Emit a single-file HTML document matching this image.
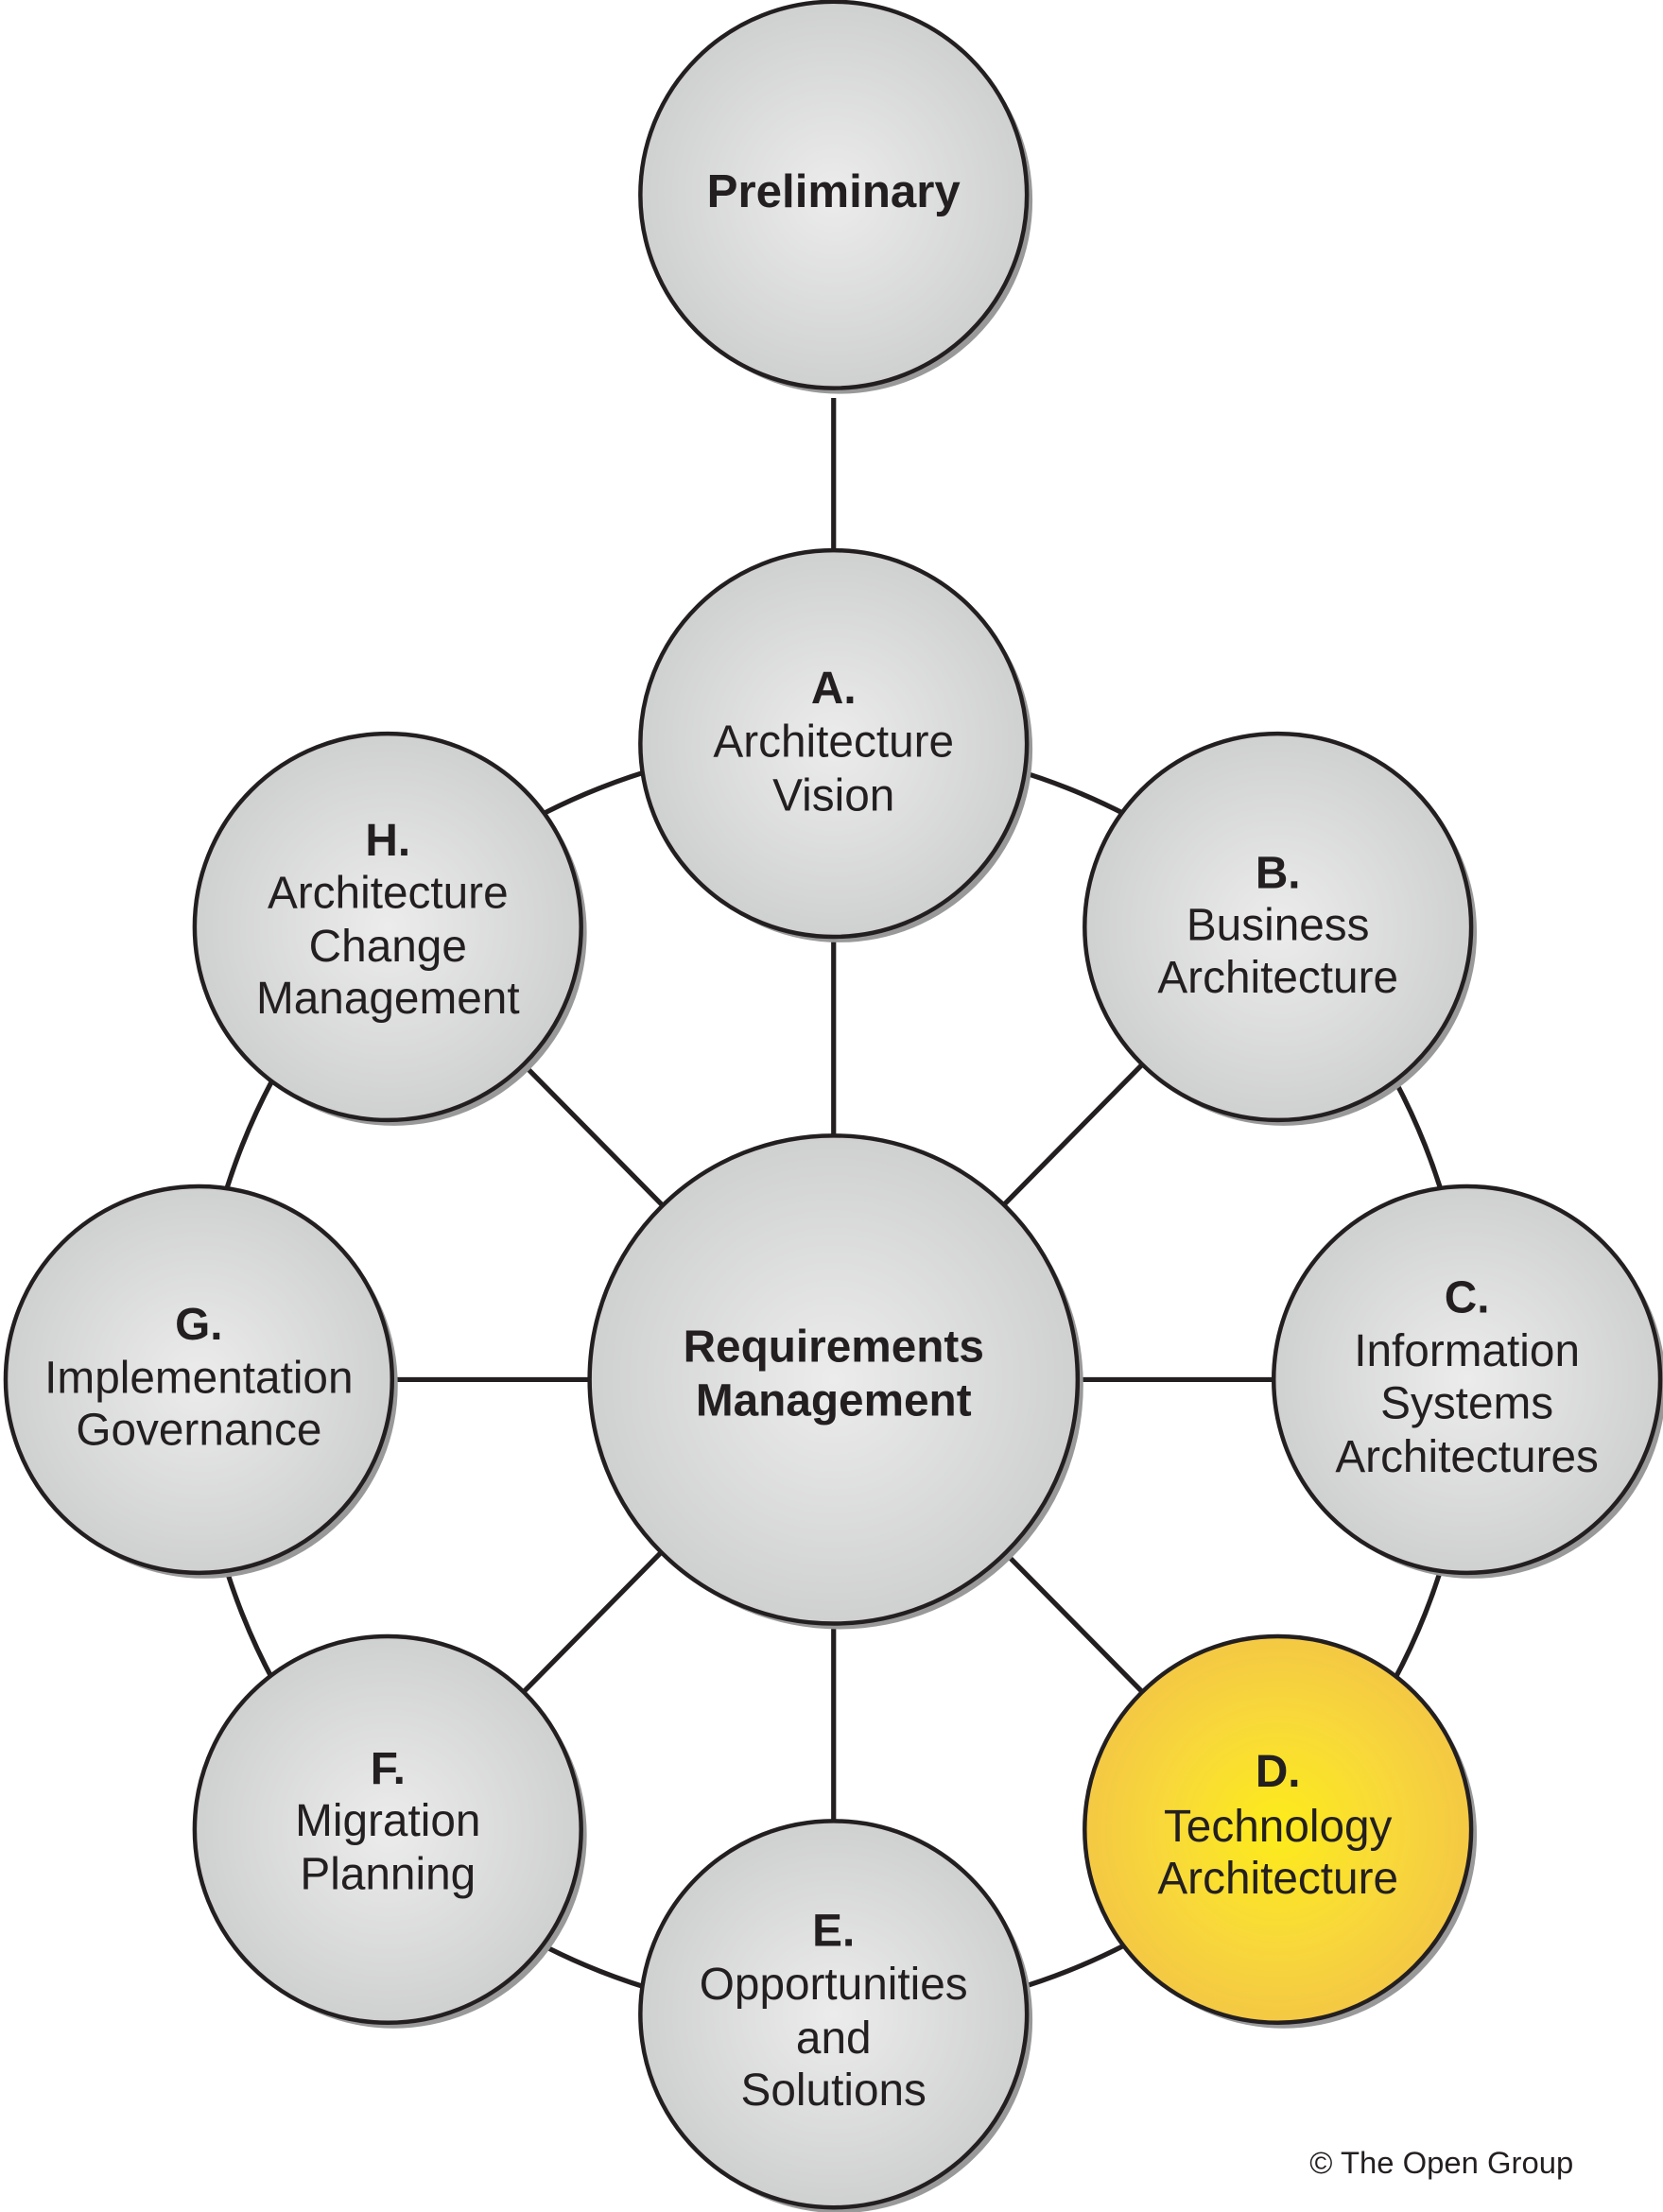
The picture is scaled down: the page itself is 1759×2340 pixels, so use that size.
<!DOCTYPE html>
<html><head><meta charset="utf-8"><style>
html,body{margin:0;padding:0;background:#fff;}
svg{display:block;}
text{font-family:"Liberation Sans",Arial,Helvetica,sans-serif;fill:#231f20;text-anchor:middle;dominant-baseline:middle;font-size:32px;}
.b{font-weight:bold;}
</style></head><body>
<svg width="1759" height="2340" viewBox="0 0 1179 1568" xmlns="http://www.w3.org/2000/svg">
<defs>
<radialGradient id="g" cx="50%" cy="50%" r="50%"><stop offset="0" stop-color="#ececec"/><stop offset="1" stop-color="#cfd0d0"/></radialGradient>
<radialGradient id="y" cx="50%" cy="50%" r="50%"><stop offset="0" stop-color="#fdec1a"/><stop offset="0.6" stop-color="#f8d83a"/><stop offset="1" stop-color="#f4c844"/></radialGradient>
</defs>
<g stroke="#231f20" stroke-width="3.5" fill="none">
<circle cx="591" cy="978" r="451"/>
<line x1="591" y1="282" x2="591" y2="390"/>
<line x1="591" y1="527" x2="591" y2="1428"/>
<line x1="141" y1="978" x2="1040" y2="978"/>
<line x1="275" y1="657" x2="906" y2="1297"/>
<line x1="906" y1="657" x2="275" y2="1297"/>
</g>
<g stroke="#231f20" stroke-width="3">
<g fill="#999" stroke="none">
<circle cx="595" cy="142" r="137"/><circle cx="595" cy="531" r="137"/><circle cx="910" cy="661" r="137"/><circle cx="1044" cy="982" r="137"/><circle cx="910" cy="1301" r="137"/><circle cx="595" cy="1432" r="137"/><circle cx="279" cy="1301" r="137"/><circle cx="145" cy="982" r="137"/><circle cx="279" cy="661" r="137"/><circle cx="595" cy="982" r="173"/>
</g>
<circle cx="591" cy="138" r="137" fill="url(#g)"/>
<circle cx="591" cy="527" r="137" fill="url(#g)"/>
<circle cx="906" cy="657" r="137" fill="url(#g)"/>
<circle cx="1040" cy="978" r="137" fill="url(#g)"/>
<circle cx="906" cy="1297" r="137" fill="url(#y)"/>
<circle cx="591" cy="1428" r="137" fill="url(#g)"/>
<circle cx="275" cy="1297" r="137" fill="url(#g)"/>
<circle cx="141" cy="978" r="137" fill="url(#g)"/>
<circle cx="275" cy="657" r="137" fill="url(#g)"/>
<circle cx="591" cy="978" r="173" fill="url(#g)"/>
</g>
<text class="b" x="591" y="138" style="font-size:33px">Preliminary</text>
<text class="b" x="591" y="490">A.</text><text x="591" y="528">Architecture</text><text x="591" y="566">Vision</text>
<text class="b" x="906" y="621">B.</text><text x="906" y="658">Business</text><text x="906" y="695">Architecture</text>
<text class="b" x="1040" y="922">C.</text><text x="1040" y="960">Information</text><text x="1040" y="997">Systems</text><text x="1040" y="1035">Architectures</text>
<text class="b" x="906" y="1258">D.</text><text x="906" y="1297">Technology</text><text x="906" y="1334">Architecture</text>
<text class="b" x="591" y="1371">E.</text><text x="591" y="1409">Opportunities</text><text x="591" y="1447">and</text><text x="591" y="1484">Solutions</text>
<text class="b" x="275" y="1256">F.</text><text x="275" y="1293">Migration</text><text x="275" y="1331">Planning</text>
<text class="b" x="141" y="941">G.</text><text x="141" y="979">Implementation</text><text x="141" y="1016">Governance</text>
<text class="b" x="275" y="598">H.</text><text x="275" y="635">Architecture</text><text x="275" y="673">Change</text><text x="275" y="710">Management</text>
<text class="b" x="591" y="957">Requirements</text><text class="b" x="591" y="995">Management</text>
<text x="1022" y="1535" style="font-size:22px">© The Open Group</text>
</svg>
</body></html>
